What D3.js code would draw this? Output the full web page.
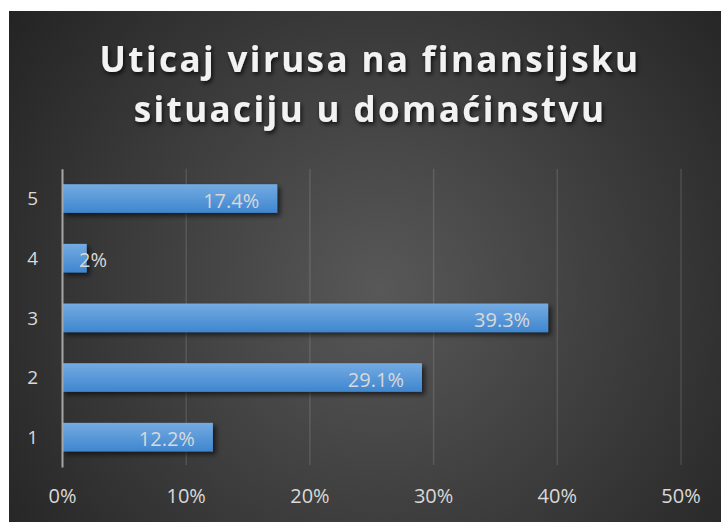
<!DOCTYPE html>
<html>
<head>
<meta charset="utf-8">
<script src="https://cdn.jsdelivr.net/npm/d3@7"></script>
<style>
  body { margin: 0; background: #fff; }
  text { font-family: "Open Sans", sans-serif; }
</style>
</head>
<body>
<div id="graph"></div>
<script>
// data
var categories = ["5", "4", "3", "2", "1"];
var values = [0.174, 0.02, 0.393, 0.291, 0.122];
var valueLabels = ["17.4%", "2%", "39.3%", "29.1%", "12.2%"];
var xTicks = [0, 0.1, 0.2, 0.3, 0.4, 0.5];
var titleLines = ["Uticaj virusa na finansijsku", "situaciju u domaćinstvu"];

var width = 721, height = 522;
var margin = {top: 168.7, right: 40.5, bottom: 55, left: 62};

var svg = d3.select("#graph").append("svg")
    .attr("width", width)
    .attr("height", height);

var defs = svg.append("defs");

var bg = defs.append("radialGradient")
    .attr("id", "bg")
    .attr("gradientUnits", "userSpaceOnUse")
    .attr("cx", 380).attr("cy", 290).attr("r", 460);
bg.append("stop").attr("offset", "0%").attr("stop-color", "#585858");
bg.append("stop").attr("offset", "100%").attr("stop-color", "#242424");

var barGrad = defs.append("linearGradient")
    .attr("id", "barGrad")
    .attr("x1", 0).attr("y1", 0).attr("x2", 0).attr("y2", 1);
barGrad.append("stop").attr("offset", "0%").attr("stop-color", "#74abe2");
barGrad.append("stop").attr("offset", "100%").attr("stop-color", "#3f86cf");

var barShadow = defs.append("filter").attr("id", "barShadow")
    .attr("x", "-10%").attr("y", "-30%").attr("width", "130%").attr("height", "180%");
barShadow.append("feDropShadow")
    .attr("dx", 3).attr("dy", 3).attr("stdDeviation", 2.5)
    .attr("flood-color", "#000").attr("flood-opacity", 0.6);

var titleShadow = defs.append("filter").attr("id", "titleShadow")
    .attr("x", "-10%").attr("y", "-30%").attr("width", "130%").attr("height", "180%");
titleShadow.append("feDropShadow")
    .attr("dx", 1.5).attr("dy", 2.5).attr("stdDeviation", 2)
    .attr("flood-color", "#000").attr("flood-opacity", 0.75);

// chart background
svg.append("rect")
    .attr("x", 9).attr("y", 11)
    .attr("width", width - 9).attr("height", height - 11)
    .attr("fill", "url(#bg)");

// title
svg.append("g")
    .attr("filter", "url(#titleShadow)")
    .selectAll("text")
    .data(titleLines)
    .enter()
    .append("text")
    .attr("x", 370)
    .attr("y", function(d, i) { return 72 + i * 50; })
    .attr("text-anchor", "middle")
    .style("font-size", "35px")
    .style("font-weight", "bold")
    .style("letter-spacing", "2.4px")
    .attr("fill", "#f2f2f2")
    .text(function(d) { return d; });

var xScale = d3.scaleLinear().domain([0, 0.5]).range([margin.left, width - margin.right]);
var yScale = d3.scaleBand().domain(categories)
    .range([margin.top, 467])
    .paddingInner(0.52)
    .paddingOuter(0.26);

var gridBottom = 465;

// x axis with gridlines
var xAxis = d3.axisBottom(xScale)
    .tickValues(xTicks)
    .tickFormat(d3.format(".0%"))
    .tickSize(-(gridBottom - margin.top))
    .tickPadding(24);

var xContainer = svg.append("g")
    .attr("transform", "translate(0," + gridBottom + ")")
    .call(xAxis);
xContainer.select(".domain").remove();
xContainer.selectAll("line")
    .attr("stroke", "#ffffff")
    .attr("stroke-opacity", function(d) { return d === 0 ? 0 : 0.12; })
    .attr("stroke-width", 1.5);
xContainer.selectAll("text")
    .attr("fill", "#d9d9d9")
    .style("font-size", "20px");

// bars
var bars = svg.append("g").attr("filter", "url(#barShadow)");
bars.selectAll(".bar")
    .data(values)
    .enter()
    .append("rect")
    .attr("class", "bar")
    .attr("x", xScale(0))
    .attr("y", function(d, i) { return yScale(categories[i]); })
    .attr("width", function(d) { return xScale(d) - xScale(0); })
    .attr("height", yScale.bandwidth())
    .attr("fill", "url(#barGrad)");

// y axis
var yAxis = d3.axisLeft(yScale).tickSize(0).tickPadding(24);
var yContainer = svg.append("g")
    .attr("transform", "translate(" + margin.left + ",0)")
    .call(yAxis);
yContainer.select(".domain")
    .attr("stroke", "#a6a6a6")
    .attr("stroke-width", 2);
yContainer.selectAll("text")
    .attr("fill", "#d9d9d9")
    .attr("dy", "0.36em")
    .style("font-size", "19px");

// value labels inside end of bars
var labels = svg.append("g").selectAll(".label")
    .data(values)
    .enter()
    .append("text")
    .attr("class", "label")
    .attr("y", function(d, i) { return yScale(categories[i]) + yScale.bandwidth() / 2 + 9; })
    .attr("text-anchor", "end")
    .attr("fill", "#d9d9d9")
    .style("font-size", "20px")
    .text(function(d, i) { return valueLabels[i]; });

labels.attr("x", function(d) {
    var w = this.getComputedTextLength();
    return Math.max(xScale(d) - 18, xScale(0) + 17 + w);
});
</script>
</body>
</html>
